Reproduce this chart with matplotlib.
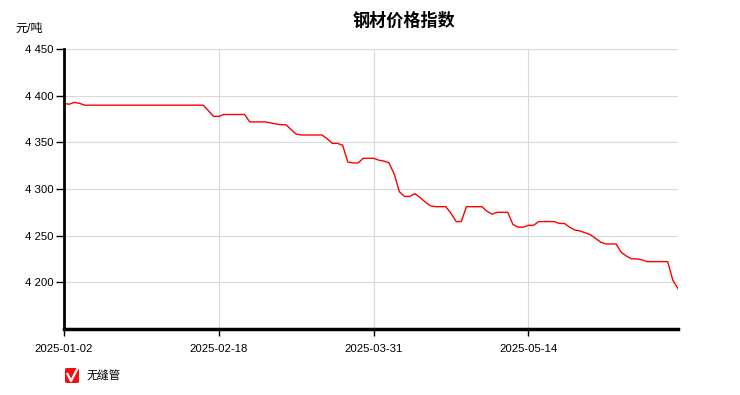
import matplotlib
matplotlib.use('Agg')
import matplotlib.pyplot as plt
from matplotlib.ticker import FuncFormatter
from matplotlib.patches import FancyBboxPatch
from matplotlib.lines import Line2D

plt.rcParams['font.family'] = ['Liberation Sans', 'Noto Sans CJK SC', 'DejaVu Sans']

title = "钢材价格指数"
unit_label = "元/吨"
series_name = "无缝管"

values = [
    4392, 4391, 4393, 4392,
    4390, 4390, 4390, 4390, 4390, 4390, 4390, 4390, 4390, 4390, 4390, 4390,
    4390, 4390, 4390, 4390, 4390, 4390, 4390, 4390, 4390, 4390, 4390, 4390,
    4384, 4378, 4378, 4380, 4380, 4380, 4380, 4380,
    4372, 4372, 4372, 4372, 4371, 4370, 4369, 4369,
    4364, 4359, 4358, 4358, 4358, 4358, 4358, 4354,
    4349, 4349, 4347, 4329, 4328, 4328, 4333, 4333,
    4333, 4331, 4330, 4328, 4316, 4297, 4292, 4292,
    4295, 4291, 4286, 4282, 4281, 4281, 4281, 4274,
    4265, 4265, 4281, 4281, 4281, 4281, 4276, 4273,
    4275, 4275, 4275, 4262, 4259, 4259, 4261, 4261,
    4265, 4265, 4265, 4265, 4263, 4263, 4259, 4256,
    4255, 4253, 4251, 4247, 4243, 4241, 4241, 4241,
    4232, 4228, 4225, 4225, 4224, 4222, 4222, 4222,
    4222, 4222, 4202, 4193,
]
x_index = list(range(len(values)))
tick_positions = [0, 30, 60, 90]
tick_labels = ["2025-01-02", "2025-02-18", "2025-03-31", "2025-05-14"]
y_ticks = [4200, 4250, 4300, 4350, 4400, 4450]

W, H = 740, 395
fig = plt.figure(figsize=(W / 100, H / 100), dpi=100)
ax = fig.add_axes([64 / W, 1 - 328.7 / H, (678 - 64) / W, (328.7 - 49.3) / H])

ax.plot(x_index, values, color='#ff0000', lw=1.0, solid_joinstyle='round')
ax.set_xlim(0, len(values) - 1)
ax.set_ylim(4150, 4450)
ax.set_yticks(y_ticks)
ax.yaxis.set_major_formatter(FuncFormatter(lambda v, p: f"{int(v):,}".replace(",", " ")))
ax.set_xticks(tick_positions)
ax.set_xticklabels(tick_labels)

ax.grid(True, color='#d9d9d9', lw=0.8)
ax.set_axisbelow(True)
for s in ['top', 'right']:
    ax.spines[s].set_visible(False)
ax.spines['left'].set_linewidth(2)
ax.spines['bottom'].set_linewidth(2.5)
ax.spines['left'].set_color('black')
ax.spines['bottom'].set_color('black')
ax.tick_params(axis='y', length=6, width=1, pad=1.5, labelsize=8.2, colors='black')
ax.tick_params(axis='x', length=5, width=1, pad=6, labelsize=8.2, colors='black')

fig.text(404 / W, 1 - 20 / H, title, ha='center', va='center', fontsize=12.3, fontweight='bold')
fig.text(15 / W, 1 - 28.5 / H, unit_label, ha='left', va='center', fontsize=8.7)

# legend with checkbox
box = FancyBboxPatch((65 / W, 1 - 383 / H), 14 / W, 15 / H,
                     boxstyle="round,pad=0,rounding_size=0.003",
                     transform=fig.transFigure, facecolor='#ee1111', edgecolor='none')
fig.patches.append(box)
fig.lines.append(Line2D([67.5 / W, 71 / W, 77.5 / W], [1 - 374 / H, 1 - 381 / H, 1 - 368.5 / H],
                        transform=fig.transFigure, color='white', lw=1.6))
fig.text(87 / W, 1 - 375.5 / H, series_name, ha='left', va='center', fontsize=8.2)

fig.savefig('out.png', dpi=100)
